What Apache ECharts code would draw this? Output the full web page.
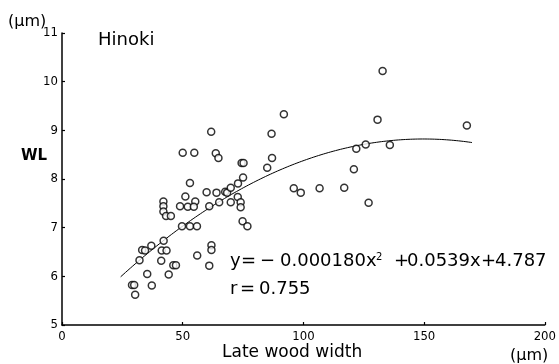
<!DOCTYPE html>
<html>
<head>
<meta charset="utf-8">
<script src="https://cdn.jsdelivr.net/npm/echarts@6/dist/echarts.min.js"></script>
<style>
  html, body { margin: 0; padding: 0; background: #fff; }
  #chart { width: 559px; height: 364px; }
</style>
</head>
<body>
<div id="chart"></div>
<script>
// Late wood width (µm) of each sample
const lateWoodWidth = [
  29.0, 29.9, 30.3, 32.1, 33.2, 34.4, 35.3, 37.0, 37.2, 41.1,
  41.3, 43.3, 42.1, 42.0, 42.0, 42.0, 43.1, 45.1, 44.2, 46.1,
  47.2, 48.9, 49.7, 50.0, 51.1, 52.1, 53.0, 53.0, 54.8, 55.2,
  54.6, 55.9, 56.0, 59.9, 61.0, 61.9, 61.9, 61.0, 61.8, 63.7,
  64.8, 64.0, 65.1, 67.6, 68.4, 69.9, 69.9, 72.9, 72.8, 74.0,
  74.0, 75.0, 74.4, 75.2, 74.8, 76.8, 85.0, 87.0, 86.8, 91.9,
  96.0, 98.9, 106.7, 116.9, 120.9, 121.9, 125.8, 127.0, 130.7, 132.8,
  135.8, 167.7
];
// WL (µm) of each sample
const wlValues = [
  5.82, 5.82, 5.62, 6.33, 6.54, 6.53, 6.05, 6.63, 5.81, 6.32,
  6.53, 6.53, 6.73, 7.54, 7.44, 7.33, 7.24, 7.24, 6.04, 6.23,
  6.23, 7.44, 7.03, 8.54, 7.64, 7.43, 7.92, 7.03, 8.54, 7.54,
  7.43, 7.03, 6.43, 7.73, 7.44, 6.64, 6.54, 6.22, 8.97, 8.53,
  8.43, 7.72, 7.52, 7.74, 7.72, 7.82, 7.52, 7.91, 7.63, 7.52,
  7.42, 8.03, 8.33, 8.33, 7.13, 7.03, 8.23, 8.43, 8.93, 9.33,
  7.81, 7.72, 7.81, 7.82, 8.20, 8.62, 8.71, 7.51, 9.22, 10.22,
  8.70, 9.10
];
// Tick values
const xTicks = [0, 50, 100, 150, 200];
const yTicks = [5, 6, 7, 8, 9, 10, 11];

// Fitted quadratic: y = a x^2 + b x + c
const coefA = -0.000180;
const coefB = 0.0539;
const coefC = 4.787;
const fitFrom = 24.3;
const fitTo = 169.8;

const points = lateWoodWidth.map((x, i) => [x, wlValues[i]]);
const fitLine = [];
for (let x = fitFrom; x <= fitTo + 1e-9; x += 0.5) {
  fitLine.push([x, coefA * x * x + coefB * x + coefC]);
}

const tickFont = "'Liberation Sans Narrow', 'DejaVu Sans Condensed', 'Liberation Sans', sans-serif";
const textFont = "'DejaVu Sans', sans-serif";

function txt(x, y, text, size, weight) {
  return {
    type: 'text', left: x, top: y - size * 0.6,
    style: { text: text, fontSize: size, fontFamily: textFont, fill: '#000', fontWeight: weight || 'normal' }
  };
}

const chart = echarts.init(document.getElementById('chart'), null, { renderer: 'canvas' });
chart.setOption({
  animation: false,
  backgroundColor: '#fff',
  grid: { left: 62, right: 12, top: 33, bottom: 39, containLabel: false },
  xAxis: {
    type: 'value', min: xTicks[0], max: xTicks[xTicks.length - 1], interval: 50,
    axisLine: { show: true, lineStyle: { color: '#000', width: 1.5 } },
    axisTick: { show: true, inside: true, length: 3, lineStyle: { color: '#000', width: 1.2 } },
    axisLabel: { margin: 5, fontSize: 13, fontFamily: tickFont, color: '#000' },
    splitLine: { show: false }
  },
  yAxis: {
    type: 'value', min: yTicks[0], max: yTicks[yTicks.length - 1], interval: 1,
    axisLine: { show: true, lineStyle: { color: '#000', width: 1.5 } },
    axisTick: { show: true, inside: true, length: 3, lineStyle: { color: '#000', width: 1.2 } },
    axisLabel: { margin: 4, fontSize: 13, fontFamily: tickFont, color: '#000' },
    splitLine: { show: false }
  },
  series: [
    {
      type: 'line', data: fitLine, showSymbol: false, smooth: false,
      lineStyle: { color: '#000', width: 1 }, z: 2
    },
    {
      type: 'scatter', data: points, symbol: 'circle', symbolSize: 7,
      itemStyle: { color: '#fff', borderColor: '#000', borderWidth: 1.5 }, z: 3
    }
  ],
  graphic: [
    txt(8, 23, '(μm)', 16),
    txt(98, 42, 'Hinoki', 18),
    txt(21, 158, 'WL', 15, 'bold'),
    txt(222, 354, 'Late wood width', 17),
    txt(510, 357, '(μm)', 16),
    // regression equation
    txt(230, 263, 'y', 18),
    txt(241, 263, '=', 18),
    txt(260, 263, '−', 18),
    txt(280, 263, '0.000180x', 18),
    txt(376, 258, '2', 10),
    txt(394, 263, '+', 18),
    txt(407, 263, '0.0539x', 18),
    txt(481, 263, '+', 18),
    txt(495, 263, '4.787', 18),
    txt(230, 291, 'r', 18),
    txt(240, 291, '=', 18),
    txt(259, 291, '0.755', 18)
  ]
});
</script>
</body>
</html>
